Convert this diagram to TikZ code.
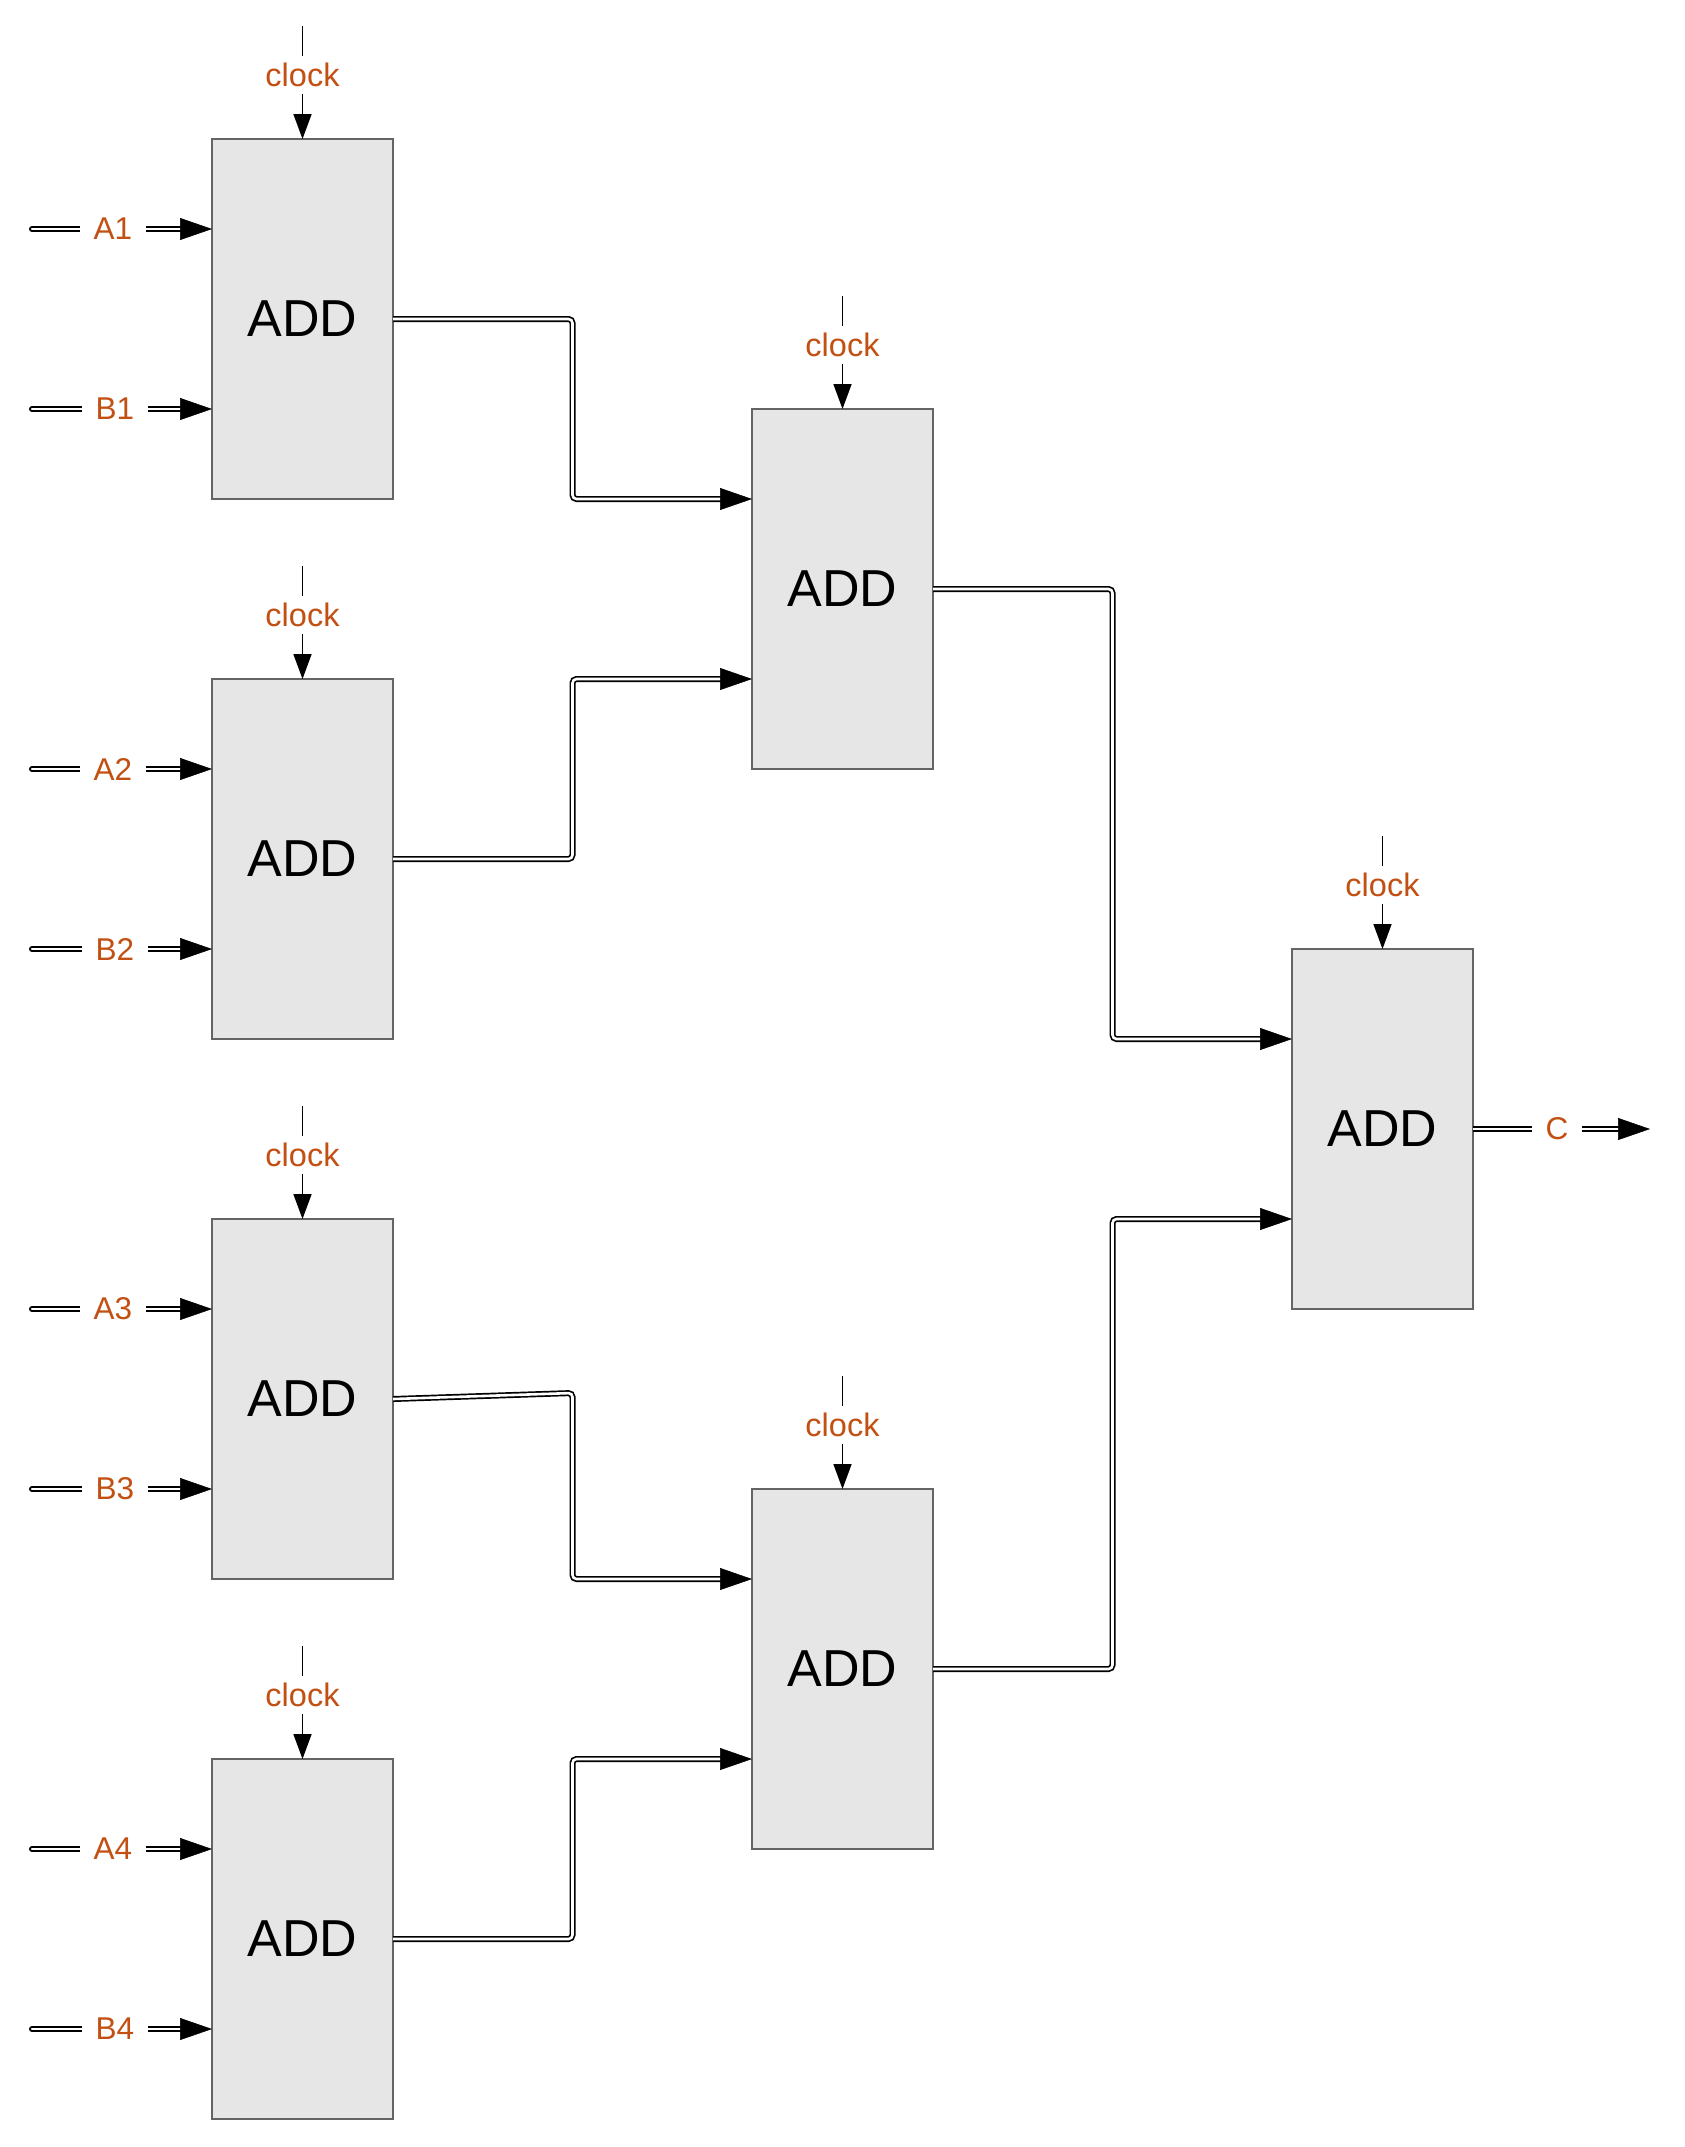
\documentclass[tikz,border=0pt]{standalone}
\usepackage{fontspec}
\setmainfont{Liberation Sans}
\usetikzlibrary{arrows.meta,calc}
\definecolor{lbl}{RGB}{194,80,18}
\definecolor{boxfill}{RGB}{230,230,230}
\definecolor{boxline}{RGB}{100,100,100}
\tikzset{
  addbox/.style={draw=boxline, fill=boxfill, line width=2.2pt, minimum width=181pt,
    minimum height=360pt, inner sep=0pt, outer sep=0pt, font=\fontsize{52}{60}\selectfont},
  wire/.style={draw=black, double=white, line width=1.7pt, double distance=2.6pt,
    rounded corners=4pt, shorten >=26pt},
  inwire/.style={wire, line cap=round},
  wiretip/.style={draw=white, line width=0.5pt, rounded corners=4pt,
    -{Triangle[length=32pt,width=22pt,color=black]}},
  lab/.style={text=lbl, fill=white, font=\fontsize{31.5}{36}\selectfont, inner xsep=14pt, inner ysep=4pt},
  clk/.style={draw=black, line width=1.7pt, -{Triangle[length=25pt,width=18pt]}},
  clklab/.style={text=lbl, fill=white, font=\fontsize{32.5}{36}\selectfont, inner xsep=2pt, inner ysep=7pt},
}
\newcommand\mybus[2][wire]{\draw[#1] #2; \draw[wiretip] #2;}
\begin{document}
\begin{tikzpicture}[x=1pt,y=-1pt]
\useasboundingbox (0,0) rectangle (1685,2147);
% boxes
\foreach \i/\yy in {1/319,2/859,3/1399,4/1939}{
  \node[addbox] (b\i) at (302.5,\yy) {ADD};
}
\node[addbox] (m1) at (842.5,589) {ADD};
\node[addbox] (m2) at (842.5,1669) {ADD};
\node[addbox] (f) at (1382.5,1129) {ADD};
% ports and clocks
\foreach \bx in {b1,b2,b3,b4,m1,m2,f}{
  \coordinate (\bx-a) at ($(\bx.north west)!0.25!(\bx.south west)$);
  \coordinate (\bx-b) at ($(\bx.north west)!0.75!(\bx.south west)$);
  \coordinate (\bx-clk) at ($(\bx.north)+(0,-113)$);
  \draw[clk] (\bx-clk) -- (\bx.north);
  \node[clklab] (\bx-clklab) at ($(\bx.north)+(0,-64)$) {clock};
}
% primary inputs
\foreach \i in {1,2,3,4}{
  \coordinate (srcA\i) at ($(b\i-a)+(-180,0)$);
  \coordinate (srcB\i) at ($(b\i-b)+(-180,0)$);
  \mybus[inwire]{(srcA\i) -- (b\i-a)}
  \mybus[inwire]{(srcB\i) -- (b\i-b)}
  \node[lab] (labA\i) at ($(srcA\i)!0.45!(b\i-a)$) {A\i};
  \node[lab] (labB\i) at ($(srcB\i)!0.46!(b\i-b)$) {B\i};
}
% internal connections
\mybus{(b1.east) -- ++(179.5,0) |- (m1-a)}
\mybus{(b2.east) -- ++(179.5,0) |- (m1-b)}
\mybus{(b3.east) -- ++(179.5,-6) |- (m2-a)}
\mybus{(b4.east) -- ++(179.5,0) |- (m2-b)}
\mybus{(m1.east) -- ++(179.5,0) |- (f-a)}
\mybus{(m2.east) -- ++(179.5,0) |- (f-b)}
% output
\coordinate (out) at ($(f.east)+(177,0)$);
\mybus{(f.east) -- (out)}
\node[lab] (labC) at ($(f.east)!0.475!(out)$) {C};
\end{tikzpicture}
\end{document}
